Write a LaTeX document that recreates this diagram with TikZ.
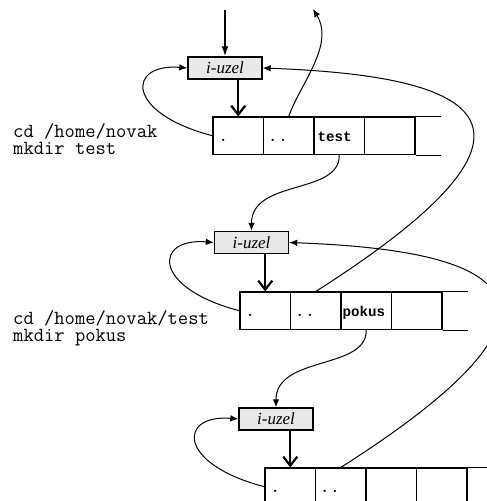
\documentclass[tikz,border=0pt]{standalone}
\usepackage{fontspec}
\newfontfamily\serifit{Liberation Serif}
\newfontfamily\monob{Liberation Mono}
\usetikzlibrary{arrows.meta,calc}
\tikzset{
  cellbox/.style={draw, line width=1.1pt, minimum width=50.5pt, minimum height=37.5pt, inner sep=0pt},
  inode/.style={draw, line width=1.4pt, fill=gray!18, minimum width=74pt, minimum height=22pt, inner sep=0pt, font=\serifit\itshape\fontsize{17}{17}\selectfont},
  thinarrow/.style={line width=1pt, -{Latex[length=8pt,width=6.5pt]}},
  toparrow/.style={line width=1.6pt, -{Latex[length=10pt,width=7pt]}},
  thickarrow/.style={line width=2.2pt, -{Straight Barb[length=9pt,width=14pt]}},
  tableline/.style={line width=1.1pt},
  cmdtext/.style={font=\ttfamily\fontsize{20}{17.5}\selectfont, align=left, anchor=base west, inner sep=0pt},
  celltext/.style={font=\ttfamily\fontsize{20}{20}\selectfont, anchor=base west, inner sep=0pt},
  cellbold/.style={font=\monob\bfseries\fontsize{14.2}{14.2}\selectfont, anchor=base west, inner sep=0pt}
}
\begin{document}
\begin{tikzpicture}[x=1pt,y=-1pt]
\useasboundingbox (0,0) rectangle (487,501);
\clip (0,0) rectangle (487,501);
% tables
\foreach \t/\x/\y/\ext in {1/213/117/25, 2/240/292/25, 3/265/468/40} {
  \foreach \i in {1,...,4} {
    \node[cellbox] (c\t\i) at ({\x+(\i-0.5)*50.5},{\y+18.75}) {};
  }
  \draw[tableline] (c\t4.north east) -- ++(\ext,0);
  \draw[tableline] (c\t4.south east) -- ++(\ext,0);
}
% i-nodes
\node[inode] (u1) at (225,68) {i-uzel};
\node[inode] (u2) at (251.5,242.5) {i-uzel};
\node[inode] (u3) at (276,419) {i-uzel};
% cell texts
\foreach \t in {1,2,3} {
  \node[celltext] (d\t) at ($(c\t1.west)+(5.5,6)$) {.};
  \node[celltext] (dd\t) at ($(c\t2.west)+(4.5,6)$) {..};
}
\node[cellbold] (ntest) at ($(c13.west)+(4,6)$) {test};
\node[cellbold] (npokus) at ($(c23.west)+(2,6)$) {pokus};
% commands (anchor = baseline of the last line)
\node[cmdtext] (cmd1) at (13,154.5) {cd /home/novak\\mkdir test};
\node[cmdtext] (cmd2) at (13,341.5) {cd /home/novak/test\\mkdir pokus};
% incoming and outgoing at top
\coordinate (tin) at (225,10);
\coordinate (tout) at (313,9);
\draw[toparrow] (tin) -- (u1.north);
\draw[thinarrow] (c12.north) .. controls +(11,-32) and +(22,36) .. (tout);
% i-node to directory
\foreach \t in {1,2,3} {
  \draw[thickarrow] (c\t1.north |- u\t.south) -- (c\t1.north);
  \draw[thinarrow] (c\t1.west) .. controls +(-88,-23) and +(-60,-5) .. (u\t.west);
}
% entries to new i-nodes
\draw[thinarrow] (c13.south) .. controls +(1,40) and +(0,-52) .. (u2.north);
\draw[thinarrow] (c23.south) .. controls +(1,40) and +(0,-52) .. (u3.north);
% parent links
\draw[thinarrow] (c22.north) .. controls +(283,-180) and +(188,7) .. (u1.east);
\draw[thinarrow] (c32.north) .. controls +(283,-180) and +(188,7) .. (u2.east);
\end{tikzpicture}
\end{document}
